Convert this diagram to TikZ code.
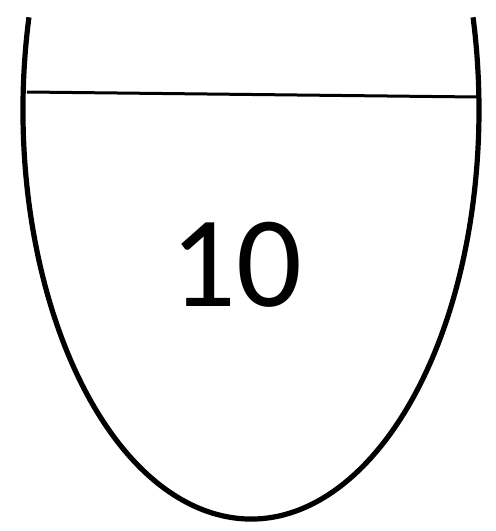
\documentclass[tikz,border=0pt]{standalone}
\usepackage{fontspec}
\setmainfont{Carlito}
\usetikzlibrary{positioning}

\begin{document}
\begin{tikzpicture}[
    x=1pt, y=1pt,
    cup/.style={line width=5.2pt},
    rim/.style={line width=3pt},
    digit/.style={font=\fontsize{130}{130}\selectfont, inner sep=0pt}
  ]

  \useasboundingbox (0,0) rectangle (496,531);

  % bowl outline
  \draw[cup] (251,421) ++(166.9:228 and 409) arc[start angle=166.9, end angle=373.1, x radius=228, y radius=409];

  % top line
  \coordinate (rimL) at (27,439);
  \coordinate (rimR) at (477,434);
  \draw[rim] (rimL) -- (rimR);

  \node[digit] (count) at (236,266) {10};

\end{tikzpicture}
\end{document}
